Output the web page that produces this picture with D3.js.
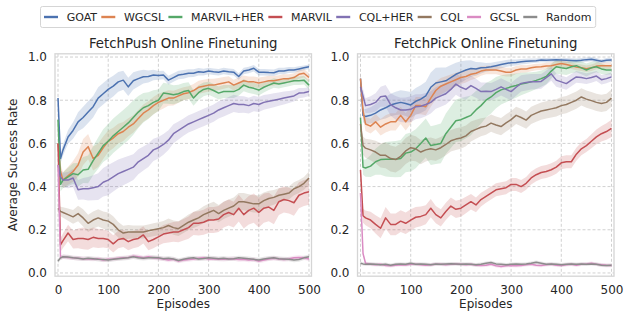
<!DOCTYPE html>
<html>
<head>
<meta charset="utf-8">
<script src="https://d3js.org/d3.v7.min.js"></script>
<style>
body { margin:0; background:#fff; }
text { font-family: "DejaVu Sans", sans-serif; fill:#262626; }
</style>
</head>
<body>
<div id="chart"></div>
<script>
// episodes where every run was logged
var episodes = [0,5,10,20,30,40,50,60,70,80,90,100,110,120,130,140,150,160,170,180,190,200,210,220,230,240,250,
  260,270,280,290,300,310,320,330,340,350,360,370,380,390,400,410,420,430,440,450,460,470,480,490,500];
// band half widths are read every 50 episodes
var bandEpisodes = [0,50,100,150,200,250,300,350,400,450,500];

var methods = ["GOAT","WGCSL","MARVIL+HER","MARVIL","CQL+HER","CQL","GCSL","Random"];
var colors = ["#4c72b0","#dd8452","#55a868","#c44e52","#8172b3","#937860","#da8bc3","#8c8c8c"];

var yTicks = [0.0,0.2,0.4,0.6,0.8,1.0];
var xTicks = [0,100,200,300,400,500];

// FetchPush
var pushGoat = [0.81,0.53,0.57,0.63,0.66,0.70,0.72,0.745,0.77,0.81,0.83,0.85,0.865,0.885,0.893,0.862,0.89,0.90,0.909,0.91,0.917,0.915,0.917,0.893,0.905,0.917,0.92,
  0.925,0.925,0.932,0.93,0.935,0.932,0.93,0.935,0.932,0.93,0.91,0.935,0.94,0.948,0.93,0.93,0.928,0.927,0.935,0.935,0.94,0.94,0.945,0.95,0.955];
var pushWgcsl = [0.6,0.47,0.43,0.45,0.47,0.50,0.56,0.585,0.53,0.545,0.58,0.61,0.625,0.645,0.655,0.675,0.69,0.715,0.74,0.755,0.775,0.79,0.80,0.81,0.81,0.82,0.83,
  0.835,0.845,0.86,0.865,0.87,0.87,0.875,0.88,0.885,0.87,0.88,0.89,0.885,0.885,0.88,0.885,0.89,0.89,0.895,0.9,0.9,0.905,0.92,0.925,0.905];
var pushMarvilHer = [0.71,0.41,0.43,0.445,0.46,0.455,0.477,0.48,0.52,0.555,0.59,0.61,0.635,0.655,0.675,0.695,0.72,0.745,0.765,0.775,0.79,0.80,0.833,0.83,0.825,0.83,0.84,
  0.845,0.81,0.835,0.85,0.855,0.845,0.833,0.84,0.84,0.84,0.85,0.87,0.86,0.855,0.847,0.86,0.87,0.88,0.875,0.88,0.885,0.89,0.89,0.893,0.87];
var pushMarvil = [0.6,0.13,0.15,0.185,0.155,0.16,0.16,0.155,0.165,0.16,0.16,0.155,0.135,0.155,0.16,0.145,0.155,0.16,0.176,0.145,0.155,0.167,0.18,0.185,0.19,0.19,0.2,
  0.21,0.23,0.23,0.235,0.245,0.245,0.25,0.27,0.28,0.27,0.30,0.27,0.29,0.30,0.28,0.30,0.305,0.29,0.33,0.34,0.335,0.325,0.36,0.37,0.376];
var pushCqlHer = [0.5,0.445,0.43,0.43,0.44,0.385,0.39,0.39,0.395,0.40,0.42,0.43,0.445,0.46,0.47,0.48,0.49,0.515,0.53,0.545,0.57,0.58,0.595,0.615,0.645,0.66,0.675,
  0.69,0.70,0.71,0.72,0.73,0.74,0.755,0.765,0.775,0.785,0.78,0.78,0.775,0.785,0.78,0.79,0.795,0.80,0.805,0.81,0.815,0.82,0.833,0.835,0.84];
var pushCql = [0.3,0.285,0.28,0.27,0.26,0.275,0.255,0.23,0.245,0.255,0.245,0.24,0.225,0.20,0.185,0.19,0.19,0.19,0.19,0.195,0.2,0.205,0.21,0.22,0.21,0.205,0.22,
  0.235,0.245,0.255,0.27,0.28,0.29,0.275,0.29,0.30,0.31,0.33,0.33,0.325,0.32,0.32,0.335,0.345,0.35,0.36,0.365,0.37,0.39,0.40,0.415,0.44];
var pushGcsl = [0.5,0.07,0.075,0.072,0.07,0.068,0.066,0.065,0.064,0.066,0.06,0.063,0.065,0.068,0.07,0.072,0.078,0.075,0.07,0.075,0.07,0.068,0.065,0.06,0.063,0.055,0.06,
  0.062,0.065,0.068,0.07,0.065,0.066,0.064,0.063,0.065,0.066,0.062,0.063,0.06,0.062,0.055,0.06,0.065,0.068,0.065,0.062,0.065,0.07,0.072,0.07,0.065];
var pushRandom = [0.055,0.07,0.075,0.074,0.07,0.068,0.065,0.068,0.066,0.063,0.062,0.06,0.063,0.066,0.068,0.07,0.075,0.07,0.068,0.07,0.072,0.07,0.066,0.068,0.065,0.058,0.063,
  0.068,0.07,0.065,0.067,0.07,0.068,0.066,0.068,0.065,0.066,0.07,0.068,0.066,0.063,0.06,0.065,0.068,0.07,0.066,0.065,0.064,0.06,0.062,0.07,0.075];

var pushBands = [
  [0.02,0.05,0.05,0.04,0.02,0.02,0.015,0.015,0.015,0.015,0.01],
  [0.03,0.06,0.05,0.04,0.04,0.03,0.03,0.025,0.025,0.02,0.02],
  [0.03,0.06,0.08,0.08,0.05,0.04,0.03,0.03,0.025,0.02,0.02],
  [0.03,0.05,0.04,0.04,0.04,0.05,0.06,0.06,0.07,0.06,0.06],
  [0.03,0.05,0.07,0.06,0.05,0.04,0.04,0.04,0.035,0.03,0.02],
  [0.02,0.04,0.04,0.03,0.03,0.035,0.04,0.04,0.04,0.03,0.03],
  [0.01,0.01,0.01,0.01,0.01,0.01,0.01,0.01,0.01,0.01,0.01],
  [0.01,0.01,0.01,0.01,0.01,0.01,0.01,0.01,0.01,0.01,0.01]
];

// FetchPick
var pickGoat = [0.90,0.73,0.725,0.73,0.74,0.755,0.765,0.778,0.785,0.79,0.785,0.778,0.795,0.805,0.82,0.86,0.88,0.885,0.89,0.905,0.92,0.93,0.94,0.947,0.945,0.95,0.952,
  0.955,0.96,0.965,0.97,0.974,0.975,0.978,0.98,0.982,0.983,0.986,0.985,0.986,0.987,0.986,0.985,0.984,0.983,0.985,0.988,0.99,0.985,0.98,0.985,0.986];
var pickWgcsl = [0.90,0.75,0.69,0.68,0.70,0.675,0.69,0.70,0.70,0.73,0.70,0.73,0.775,0.775,0.77,0.81,0.845,0.865,0.875,0.885,0.895,0.905,0.91,0.92,0.925,0.935,0.94,
  0.94,0.94,0.935,0.93,0.93,0.94,0.945,0.945,0.95,0.954,0.955,0.958,0.96,0.965,0.97,0.965,0.96,0.954,0.95,0.946,0.95,0.958,0.96,0.96,0.96];
var pickMarvilHer = [0.72,0.49,0.486,0.495,0.515,0.525,0.527,0.527,0.527,0.53,0.555,0.56,0.575,0.60,0.625,0.59,0.595,0.60,0.645,0.675,0.705,0.71,0.72,0.73,0.755,0.775,0.80,
  0.815,0.835,0.848,0.855,0.862,0.868,0.875,0.88,0.885,0.892,0.9,0.91,0.935,0.955,0.95,0.947,0.955,0.96,0.95,0.94,0.95,0.955,0.945,0.94,0.94];
var pickMarvil = [0.477,0.265,0.255,0.245,0.225,0.207,0.255,0.225,0.225,0.24,0.23,0.245,0.258,0.262,0.27,0.30,0.27,0.255,0.285,0.31,0.295,0.30,0.315,0.33,0.315,0.34,0.355,
  0.37,0.385,0.39,0.395,0.41,0.41,0.40,0.415,0.44,0.455,0.465,0.47,0.478,0.49,0.51,0.515,0.515,0.55,0.575,0.59,0.61,0.63,0.645,0.655,0.67];
var pickCqlHer = [0.862,0.82,0.775,0.78,0.79,0.816,0.82,0.78,0.765,0.755,0.755,0.758,0.77,0.772,0.78,0.79,0.81,0.82,0.83,0.85,0.875,0.86,0.85,0.868,0.855,0.84,0.842,
  0.84,0.85,0.862,0.85,0.84,0.86,0.878,0.882,0.886,0.886,0.887,0.905,0.922,0.893,0.885,0.877,0.893,0.908,0.905,0.9,0.905,0.912,0.895,0.9,0.908];
var pickCql = [0.69,0.59,0.578,0.57,0.56,0.545,0.545,0.53,0.525,0.54,0.565,0.58,0.575,0.56,0.57,0.575,0.57,0.58,0.595,0.612,0.62,0.625,0.635,0.655,0.665,0.675,0.68,
  0.694,0.685,0.678,0.695,0.71,0.73,0.72,0.708,0.73,0.74,0.75,0.755,0.76,0.765,0.775,0.78,0.79,0.8,0.815,0.805,0.798,0.79,0.785,0.79,0.81];
var pickGcsl = [0.37,0.09,0.045,0.04,0.038,0.04,0.035,0.033,0.036,0.038,0.037,0.04,0.04,0.038,0.036,0.038,0.04,0.04,0.038,0.04,0.042,0.04,0.038,0.04,0.036,0.035,0.036,
  0.04,0.033,0.03,0.033,0.035,0.033,0.035,0.038,0.04,0.036,0.035,0.038,0.04,0.036,0.035,0.038,0.04,0.036,0.04,0.042,0.045,0.04,0.038,0.036,0.035];
var pickRandom = [0.045,0.042,0.04,0.042,0.04,0.038,0.04,0.036,0.04,0.042,0.04,0.045,0.04,0.042,0.04,0.038,0.042,0.04,0.042,0.043,0.042,0.04,0.042,0.04,0.038,0.04,0.045,
  0.048,0.042,0.04,0.038,0.04,0.042,0.04,0.042,0.045,0.05,0.045,0.04,0.042,0.04,0.038,0.04,0.042,0.04,0.042,0.04,0.042,0.04,0.036,0.035,0.036];

var pickBands = [
  [0.03,0.05,0.06,0.07,0.05,0.02,0.015,0.01,0.01,0.01,0.01],
  [0.03,0.04,0.04,0.04,0.03,0.02,0.02,0.015,0.015,0.015,0.015],
  [0.03,0.08,0.09,0.09,0.1,0.08,0.06,0.04,0.03,0.03,0.02],
  [0.03,0.05,0.05,0.04,0.04,0.03,0.03,0.03,0.03,0.03,0.04],
  [0.03,0.05,0.06,0.05,0.05,0.04,0.04,0.035,0.03,0.025,0.02],
  [0.04,0.06,0.06,0.05,0.05,0.04,0.04,0.04,0.04,0.04,0.04],
  [0.008,0.008,0.008,0.008,0.008,0.008,0.008,0.008,0.008,0.008,0.008],
  [0.008,0.008,0.008,0.008,0.008,0.008,0.008,0.008,0.008,0.008,0.008]
];

var panels = [
  {title:"FetchPush Online Finetuning", left:55, right:311.5, series:[pushGoat,pushWgcsl,pushMarvilHer,pushMarvil,pushCqlHer,pushCql,pushGcsl,pushRandom], bands:pushBands},
  {title:"FetchPick Online Finetuning", left:357.5, right:614, series:[pickGoat,pickWgcsl,pickMarvilHer,pickMarvil,pickCqlHer,pickCql,pickGcsl,pickRandom], bands:pickBands}
];

var svg = d3.select("#chart").append("svg").attr("width",625).attr("height",311);

var plotTop = 53.8, plotBottom = 276.2;
var y = d3.scaleLinear().domain([-0.015,1.015]).range([plotBottom,plotTop]);

panels.forEach(function(p,pi){
  var x = d3.scaleLinear().domain([-6,505]).range([p.left,p.right]);
  var g = svg.append("g");

  // grid
  g.selectAll(".gx").data(xTicks).enter().append("line")
    .attr("x1",d=>x(d)).attr("x2",d=>x(d)).attr("y1",plotTop).attr("y2",plotBottom)
    .attr("stroke","#cccccc").attr("stroke-width",0.9).attr("stroke-dasharray","3,2");
  g.selectAll(".gy").data(yTicks).enter().append("line")
    .attr("x1",p.left).attr("x2",p.right).attr("y1",d=>y(d)).attr("y2",d=>y(d))
    .attr("stroke","#cccccc").attr("stroke-width",0.9).attr("stroke-dasharray","3,2");

  g.append("clipPath").attr("id","clip"+pi).append("rect")
    .attr("x",p.left).attr("y",plotTop).attr("width",p.right-p.left).attr("height",plotBottom-plotTop);
  var plot = g.append("g").attr("clip-path","url(#clip"+pi+")");

  p.series.forEach(function(vals,si){
    var hw = d3.scaleLinear().domain(bandEpisodes).range(p.bands[si]);
    var area = d3.area()
      .x((d,i)=>x(episodes[i]))
      .y0((d,i)=>y(d-hw(episodes[i])))
      .y1((d,i)=>y(d+hw(episodes[i])));
    plot.append("path").attr("d",area(vals)).attr("fill",colors[si]).attr("fill-opacity",0.2);
  });
  p.series.forEach(function(vals,si){
    var line = d3.line().x((d,i)=>x(episodes[i])).y(d=>y(d));
    plot.append("path").attr("d",line(vals)).attr("fill","none")
      .attr("stroke",colors[si]).attr("stroke-width",1.5).attr("stroke-linejoin","round");
  });

  // frame
  g.append("rect").attr("x",p.left).attr("y",plotTop).attr("width",p.right-p.left).attr("height",plotBottom-plotTop)
    .attr("fill","none").attr("stroke","#d5d5d5").attr("stroke-width",1.3);

  var xa = g.append("g").attr("transform","translate(0,"+plotBottom+")")
    .call(d3.axisBottom(x).tickValues(xTicks).tickSize(0).tickPadding(9).tickFormat(d3.format("d")));
  var ya = g.append("g").attr("transform","translate("+p.left+",0)")
    .call(d3.axisLeft(y).tickValues(yTicks).tickSize(0).tickPadding(8).tickFormat(d3.format(".1f")));
  [xa,ya].forEach(function(a){
    a.select(".domain").remove();
    a.selectAll("text").style("font-family","DejaVu Sans, sans-serif").style("font-size","12px").attr("fill","#262626");
  });

  g.append("text").attr("x",(p.left+p.right)/2).attr("y",48).attr("text-anchor","middle")
    .style("font-size","13.3px").text(p.title);
  g.append("text").attr("x",(p.left+p.right)/2).attr("y",308).attr("text-anchor","middle")
    .style("font-size","12px").text("Episodes");
});

svg.append("text").attr("transform","translate(17,165) rotate(-90)").attr("text-anchor","middle")
  .style("font-size","12px").text("Average Success Rate");

// legend
var leg = svg.append("g");
var box = leg.append("rect").attr("x",40.5).attr("y",6.5).attr("height",21).attr("rx",2)
  .attr("fill","#fff").attr("stroke","#d5d5d5").attr("stroke-width",1);
var lx = 44;
methods.forEach(function(m,i){
  leg.append("line").attr("x1",lx).attr("x2",lx+14).attr("y1",17).attr("y2",17)
    .attr("stroke",colors[i]).attr("stroke-width",2.4);
  var t = leg.append("text").attr("x",lx+22.7).attr("y",21).style("font-size","11px").text(m);
  lx += 22.7 + t.node().getComputedTextLength() + 4.2;
});
box.attr("width",lx-40.5);
</script>
</body>
</html>
